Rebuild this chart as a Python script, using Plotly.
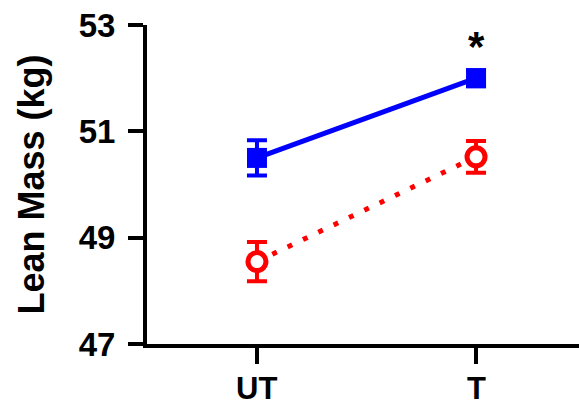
import plotly.graph_objects as go

# Lean mass by condition (mean ± error) for two groups
conditions = ["UT", "T"]
group_a_mean = [50.5, 52.0]
group_a_err = [0.33, 0.15]
group_b_mean = [48.55, 50.52]
group_b_err = [0.37, 0.30]
y_ticks = [47, 49, 51, 53]

BLUE = "#0000ff"
RED = "#ff0000"
FONT = "Liberation Sans, Arial, sans-serif"

fig = go.Figure()

fig.add_trace(go.Scatter(
    x=conditions, y=group_b_mean,
    mode="lines+markers",
    line=dict(color=RED, width=5, dash="5px,12px"),
    marker=dict(symbol="circle", size=18, color="white",
                line=dict(color=RED, width=5)),
    error_y=dict(type="data", array=group_b_err, visible=True,
                 color=RED, thickness=4, width=10),
    showlegend=False,
))

fig.add_trace(go.Scatter(
    x=conditions, y=group_a_mean,
    mode="lines+markers",
    line=dict(color=BLUE, width=5),
    marker=dict(symbol="square", size=20, color=BLUE,
                line=dict(color=BLUE, width=0)),
    error_y=dict(type="data", array=group_a_err, visible=True,
                 color=BLUE, thickness=4, width=10),
    showlegend=False,
))

# significance marker above the T group
fig.add_annotation(x="T", y=group_a_mean[1], text="<b>*</b>", showarrow=False,
                   yshift=32, font=dict(family=FONT, size=42, color="black"))

# category labels under the x axis, kept tight to the bottom edge
for c in conditions:
    fig.add_annotation(x=c, xref="x", y=-0.08, yref="paper", yanchor="top",
                       text=f"<b>{c}</b>", showarrow=False, borderpad=0,
                       font=dict(family=FONT, size=31, color="black"))

fig.update_layout(
    width=579, height=405,
    margin=dict(l=147, r=0, t=25, b=61, autoexpand=False),
    paper_bgcolor="white", plot_bgcolor="white",
    font=dict(family=FONT, color="black"),
)

fig.update_xaxes(
    type="category", range=[-0.502, 1.47], automargin=False,
    showline=True, linecolor="black", linewidth=4,
    ticks="outside", ticklen=16, tickwidth=4, tickcolor="black",
    tickvals=conditions, showticklabels=False,
    showgrid=False, zeroline=False,
)

fig.update_yaxes(
    range=[47, 53], automargin=False,
    showline=True, linecolor="black", linewidth=4,
    ticks="outside", ticklen=15, tickwidth=4, tickcolor="black",
    tickvals=y_ticks, ticktext=[f"<b>{v}</b>" for v in y_ticks],
    tickfont=dict(family=FONT, size=33, color="black"),
    ticklabelstandoff=6,
    title=dict(text="<b>Lean Mass (kg)</b>", standoff=24,
               font=dict(family=FONT, size=36, color="black")),
    showgrid=False, zeroline=False,
)

fig.write_html("out.html")
